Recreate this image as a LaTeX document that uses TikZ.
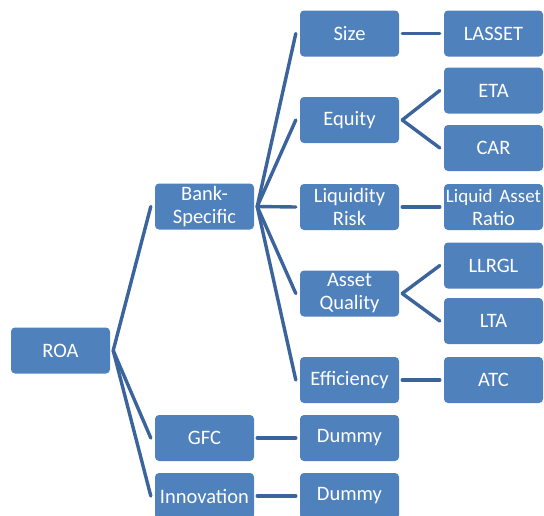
\documentclass[tikz,border=0pt]{standalone}
\usepackage{fontspec}
\setmainfont{Carlito}
\usepackage{xcolor}
\usepackage{tikz}
\usetikzlibrary{positioning}
\definecolor{boxblue}{RGB}{79, 129, 189}
\definecolor{linkblue}{RGB}{60, 100, 156}

\begin{document}
\begin{tikzpicture}[x=1pt, y=-1pt,
    factor/.style={rectangle, rounded corners=4pt, fill=boxblue, minimum width=99pt,
                   minimum height=46pt, inner sep=0pt, text width=99pt, text=white,
                   font=\fontsize{20.5}{23}\selectfont, align=center},
    link/.style={linkblue, line width=3.4pt, line cap=round}
]
\useasboundingbox (0,0) rectangle (544,515);

% Root and groups
\node[factor] (roa) at (60.5,350.5) {ROA};
\node[factor] (bank) at (204.5,206.5) {Bank-\\Specific};
\node[factor] (gfc) at (204.5,438) {GFC};
\node[factor] (innov) at (204.5,496) {Innovation};

% Bank-specific determinants
\node[factor] (size) at (349.5,33.5) {Size};
\node[factor] (equity) at (349.5,120) {Equity};
\node[factor] (liqrisk) at (349.5,207) {Liquidity\\Risk};
\node[factor] (assetq) at (349.5,293.5) {Asset\\Quality};
\node[factor] (effic) at (349.5,380) {Efficiency};
\node[factor] (dummya) at (349.5,438) {Dummy};
\node[factor] (dummyb) at (349.5,496) {Dummy};

% Proxies
\node[factor] (lasset) at (493.5,33.5) {LASSET};
\node[factor] (eta) at (493.5,90.5) {ETA};
\node[factor] (car) at (493.5,148) {CAR};
\node[factor] (liqratio) at (493.5,207) {\hbox to 99pt{\hss\fontsize{19}{23}\selectfont Liquid Asset\hss}\\Ratio};
\node[factor] (llrgl) at (493.5,265.5) {LLRGL};
\node[factor] (lta) at (493.5,321) {LTA};
\node[factor] (atc) at (493.5,380) {ATC};

% Links
\foreach \a/\b in {roa/bank, roa/gfc, roa/innov,
                   bank/size, bank/equity, bank/liqrisk, bank/assetq, bank/effic,
                   gfc/dummya, innov/dummyb,
                   size/lasset, equity/eta, equity/car, liqrisk/liqratio,
                   assetq/llrgl, assetq/lta, effic/atc}
    \draw[link] ([xshift=3pt]\a.east) -- ([xshift=-4pt]\b.west);

\end{tikzpicture}
\end{document}
